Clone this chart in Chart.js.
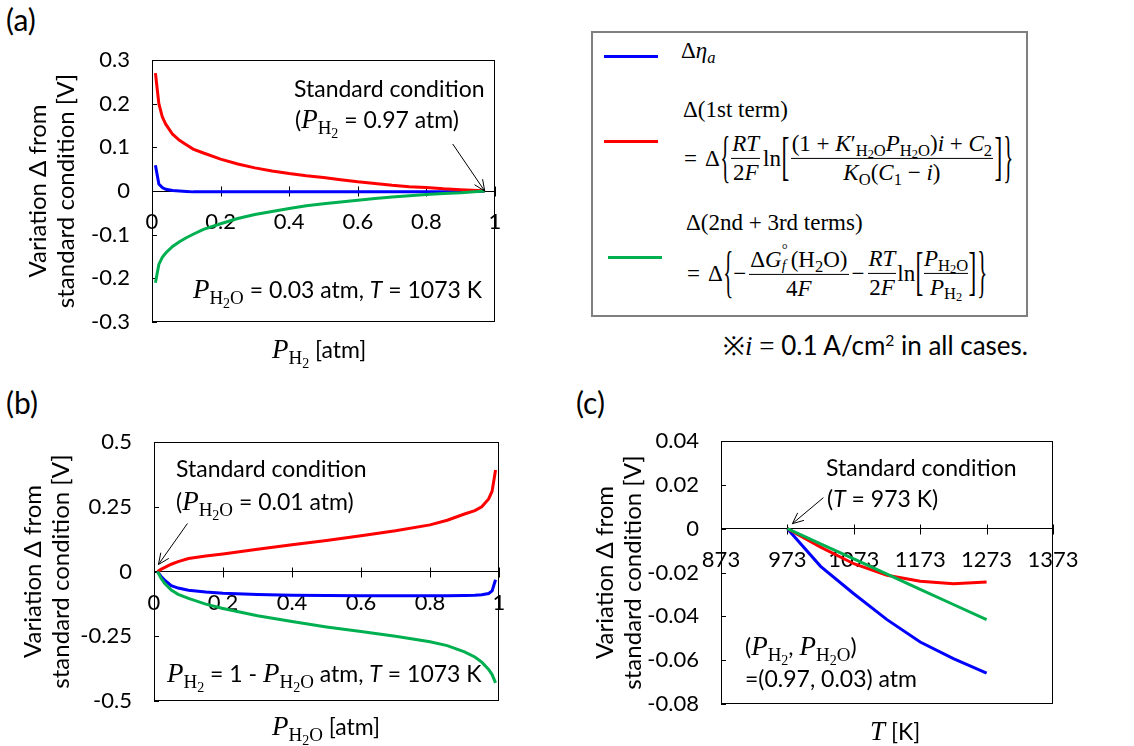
<!DOCTYPE html>
<html><head><meta charset="utf-8">
<script src="https://cdn.jsdelivr.net/npm/chart.js@4.4.1/dist/chart.umd.min.js"></script>
<style>
html,body{margin:0;padding:0;background:#fff;}
body{width:1134px;height:746px;position:relative;overflow:hidden;font-family:Lato,"Open Sans",sans-serif;color:#000;}
.abs{position:absolute;white-space:nowrap;line-height:1;}
.pl{font-size:30px;}
canvas{position:absolute;}
.m{font-family:"Liberation Serif","DejaVu Serif",serif;font-size:23px;}
.m i{font-style:italic;}
.m sub{font-size:72%;vertical-align:-0.28em;line-height:0;}
.m sub sub{font-size:75%;vertical-align:-0.2em;}
.row{display:flex;align-items:center;transform:translateY(-50%);}
.fr{display:inline-flex;flex-direction:column;align-items:center;margin:0 1px;}
.fr>.nu{align-self:stretch;text-align:center;border-bottom:1.6px solid #000;line-height:1.2;padding:0 1px;}
.fr>.de{align-self:stretch;text-align:center;line-height:1.2;padding:0 1px;}
.brc{display:inline-block;font-size:26px;transform:scale(0.8,2.2);line-height:1;margin:0 -1px;}
.brk{display:inline-block;font-size:26px;transform:scale(0.9,2.0);line-height:1;margin:0 0;}
.ss{display:inline-block;position:relative;width:9px;height:23px;vertical-align:baseline;}
.ss>span{position:absolute;left:0;font-size:15px;line-height:1;}
.sw{position:absolute;height:3px;width:54px;}
</style></head>
<body>
<div class="abs pl" style="left:6px;top:4px;">(a)</div>
<div class="abs pl" style="left:6px;top:387px;">(b)</div>
<div class="abs pl" style="left:576px;top:387px;">(c)</div>

<canvas id="cA" width="545" height="340" style="left:0;top:40px;"></canvas>
<canvas id="cB" width="545" height="326" style="left:0;top:420px;"></canvas>
<canvas id="cC" width="574" height="326" style="left:560px;top:420px;"></canvas>

<div id="legend" style="position:absolute;left:591px;top:31px;width:433px;height:282px;border:2px solid #7f7f7f;"></div>
<div class="sw" style="left:604px;top:55px;background:#0000ff;"></div>
<div class="sw" style="left:604px;top:140px;background:#ff0000;"></div>
<div class="sw" style="left:608px;top:256px;background:#00b050;"></div>

<div class="abs m" style="left:681px;top:39px;">Δ<i>η</i><sub><i>a</i></sub></div>
<div class="abs m" style="left:683px;top:98px;">Δ(1st term)</div>
<div class="abs m row" style="left:684px;top:158px;">
  <span>=</span><span style="margin-left:8px;">Δ</span><span class="brc">{</span>
  <span class="fr"><span class="nu"><i>RT</i></span><span class="de">2<i>F</i></span></span>
  <span style="margin-left:2px;">ln</span><span class="brk">[</span>
  <span class="fr"><span class="nu">(1 + <i>K</i>′<sub>H<sub>2</sub>O</sub><i>P</i><sub>H<sub>2</sub>O</sub>)<i>i</i> + <i>C</i><sub>2</sub></span><span class="de"><i>K</i><sub>O</sub>(<i>C</i><sub>1</sub> − <i>i</i>)</span></span>
  <span class="brk">]</span><span class="brc">}</span>
</div>
<div class="abs m" style="left:686px;top:211px;">Δ(2nd + 3rd terms)</div>
<div class="abs m row" style="left:687px;top:273px;">
  <span>=</span><span style="margin-left:8px;">Δ</span><span class="brc">{</span><span>−</span>
  <span class="fr" style="margin-left:3px;"><span class="nu">Δ<i>G</i><span class="ss"><span style="top:-2px;">°</span><span style="top:14px;"><i>f</i></span></span>(H<sub>2</sub>O)</span><span class="de">4<i>F</i></span></span>
  <span style="margin:0 2px;">−</span>
  <span class="fr"><span class="nu"><i>RT</i></span><span class="de">2<i>F</i></span></span>
  <span>ln</span><span class="brk">[</span>
  <span class="fr" style="margin:0;"><span class="nu" style="padding:0;"><i>P</i><sub>H<sub>2</sub>O</sub></span><span class="de" style="padding:0;"><i>P</i><sub>H<sub>2</sub></sub></span></span>
  <span class="brk">]</span><span class="brc">}</span>
</div>
<div class="abs" style="left:723px;top:332px;font-size:26px;">※<span class="m" style="font-size:27px;"><i>i</i> = </span>0.1 A/cm<sup style="font-size:60%;vertical-align:0.6em;line-height:0;">2</sup> in all cases.</div>

<script>
// ---------------- data ----------------
// (a) P_H2 sweep, P_H2O = 0.03 atm, T = 1073 K
const pH2_a = [0.01,0.02,0.03,0.04,0.06,0.08,0.1,0.12,0.15,0.2,0.25,0.3,0.35,0.4,0.45,0.5,0.55,0.6,0.65,0.7,0.75,0.8,0.85,0.9,0.95,0.97];
const etaA_a = [0.059,0.016,0.008,0.004,0.001,0,-0.001,-0.002,-0.002,-0.002,-0.002,-0.002,-0.002,-0.002,-0.002,-0.002,-0.002,-0.002,-0.002,-0.002,-0.002,-0.002,-0.002,-0.001,-0.001,0];
const term1_a = [0.270,0.200,0.170,0.153,0.130,0.116,0.106,0.096,0.087,0.073,0.062,0.053,0.046,0.040,0.035,0.031,0.026,0.021,0.017,0.013,0.010,0.008,0.005,0.003,0.001,0];
const term23_a = [-0.210,-0.168,-0.152,-0.142,-0.127,-0.116,-0.107,-0.099,-0.088,-0.075,-0.063,-0.054,-0.047,-0.040,-0.034,-0.029,-0.025,-0.021,-0.017,-0.014,-0.011,-0.008,-0.006,-0.004,-0.001,0];
const xTicksA = [0,0.2,0.4,0.6,0.8,1];
const yTicksA = [-0.3,-0.2,-0.1,0,0.1,0.2,0.3];

// (b) P_H2O sweep, P_H2 = 1 - P_H2O, T = 1073 K
const pH2O_b = [0.01,0.02,0.03,0.05,0.07,0.1,0.15,0.2,0.3,0.4,0.5,0.6,0.7,0.8,0.85,0.9,0.93,0.95,0.97,0.98,0.99];
const etaA_b = [0,-0.018,-0.032,-0.055,-0.064,-0.072,-0.079,-0.084,-0.089,-0.092,-0.093,-0.094,-0.094,-0.094,-0.094,-0.093,-0.092,-0.090,-0.085,-0.075,-0.032];
const term1_b = [0,0.008,0.015,0.028,0.038,0.050,0.060,0.068,0.086,0.103,0.120,0.138,0.157,0.180,0.198,0.222,0.235,0.250,0.280,0.310,0.392];
const term23_b = [0,-0.025,-0.045,-0.072,-0.088,-0.104,-0.126,-0.143,-0.171,-0.193,-0.214,-0.232,-0.250,-0.271,-0.286,-0.310,-0.330,-0.350,-0.378,-0.398,-0.430];
const xTicksB = [0,0.2,0.4,0.6,0.8,1];
const yTicksB = [-0.5,-0.25,0,0.25,0.5];

// (c) temperature sweep, (P_H2, P_H2O) = (0.97, 0.03) atm
const T_c = [973,1023,1073,1123,1173,1223,1273];
const etaA_c = [0,-0.0172,-0.0297,-0.0415,-0.0517,-0.0593,-0.0659];
const term1_c = [0,-0.0084,-0.0160,-0.0213,-0.0240,-0.0251,-0.0243];
const term23_c = [0,-0.0069,-0.0138,-0.0207,-0.0277,-0.0346,-0.0415];
const xTicksC = [873,973,1073,1173,1273,1373];
const yTicksC = [-0.08,-0.06,-0.04,-0.02,0,0.02,0.04];

// ---------------- styling helpers ----------------
const SANS = 'Lato, "Open Sans", sans-serif';
const SERIF = '"Liberation Serif", "DejaVu Serif", serif';
const BLUE = '#0000ff', RED = '#ff0000', GREEN = '#00b050';
const sans = (t, s = 23, st = '') => ({t, f: `${st} ${s}px ${SANS}`});
const mi = (t, s = 27) => ({t, f: `italic ${s}px ${SERIF}`});
const sb = (t, s = 19, dy = 6) => ({t, f: `${s}px ${SERIF}`, dy});
const PH2 = () => [mi('P'), sb('H'), sb('2', 14, 10)];
const PH2O = () => [mi('P'), sb('H'), sb('2', 14, 10), sb('O')];
const Tit = () => sans('T', 23, 'italic');

function drawRich(ctx, parts, x, y, align) {
  let w = 0;
  parts.forEach(p => { ctx.font = p.f; p.w = ctx.measureText(p.t).width; w += p.w; });
  let cx = align === 'right' ? x - w : (align === 'center' ? x - w / 2 : x);
  ctx.textAlign = 'left'; ctx.textBaseline = 'alphabetic'; ctx.fillStyle = '#000';
  parts.forEach(p => { ctx.font = p.f; ctx.fillText(p.t, cx, y + (p.dy || 0)); cx += p.w; });
}

const ANNOT = {
  cA: {
    arrow: {x: 0.97, y: 0, tdx: 0, tdy: 0, sdx: -32, sdy: -47},
    texts: [
      {p: [sans('Standard condition')], x: 294, y: 57},
      {p: [sans('('), ...PH2(), sans(' = 0.97 atm)')], x: 295, y: 88},
      {p: [...PH2O(), sans(' = 0.03 atm, '), Tit(), sans(' = 1073 K')], x: 482, y: 258, a: 'right'},
      {p: [...PH2(), sans(' [atm]')], x: 272, y: 318}
    ]
  },
  cB: {
    arrow: {x: 0.01, y: 0, tdx: 1, tdy: -7, sdx: 29, sdy: -41},
    texts: [
      {p: [sans('Standard condition')], x: 176, y: 57},
      {p: [sans('('), ...PH2O(), sans(' = 0.01 atm)')], x: 176, y: 90},
      {p: [...PH2(), sans(' = 1 - '), ...PH2O(), sans(' atm, '), Tit(), sans(' = 1073 K')], x: 167, y: 262},
      {p: [...PH2O(), sans(' [atm]')], x: 272, y: 315}
    ]
  },
  cC: {
    arrow: {x: 973, y: 0, tdx: 5, tdy: -5, sdx: 31, sdy: -26},
    texts: [
      {p: [sans('Standard condition')], x: 266, y: 56},
      {p: [sans('('), Tit(), sans(' = 973 K)')], x: 267, y: 87},
      {p: [sans('('), ...PH2(), sans(', '), ...PH2O(), sans(')')], x: 185, y: 235},
      {p: [sans('=(0.97, 0.03) atm')], x: 185, y: 267},
      {p: [mi('T', 27), sans(' [K]')], x: 310, y: 320}
    ]
  }
};

const decor = {
  id: 'decor',
  beforeDatasetsDraw(chart) {
    const {ctx, chartArea: a, scales: {x, y}} = chart;
    ctx.save();
    ctx.strokeStyle = '#000'; ctx.lineWidth = 1;
    ctx.strokeRect(a.left + 0.5, a.top + 0.5, a.right - a.left - 1, a.bottom - a.top - 1);
    y.ticks.forEach(t => {
      const py = Math.round(y.getPixelForValue(t.value)) + 0.5;
      ctx.beginPath(); ctx.moveTo(a.left, py); ctx.lineTo(a.left + 5, py); ctx.stroke();
    });
    const y0 = Math.round(y.getPixelForValue(0)) + 0.5;
    x.ticks.forEach(t => {
      const px = Math.round(x.getPixelForValue(t.value)) + 0.5;
      ctx.beginPath(); ctx.moveTo(px, y0 - 5); ctx.lineTo(px, y0 + 5); ctx.stroke();
    });
    ctx.restore();
  },
  afterDraw(chart) {
    const spec = ANNOT[chart.canvas.id];
    if (!spec) return;
    const {ctx, scales: {x, y}} = chart;
    ctx.save();
    const ar = spec.arrow;
    const tx = x.getPixelForValue(ar.x) + ar.tdx, ty = y.getPixelForValue(ar.y) + ar.tdy;
    const sx = tx + ar.sdx, sy = ty + ar.sdy;
    ctx.strokeStyle = '#000'; ctx.lineWidth = 1;
    ctx.beginPath(); ctx.moveTo(sx, sy); ctx.lineTo(tx, ty); ctx.stroke();
    const ang = Math.atan2(ty - sy, tx - sx), L = 12, h = 0.42;
    ctx.beginPath();
    ctx.moveTo(tx - L * Math.cos(ang - h), ty - L * Math.sin(ang - h));
    ctx.lineTo(tx, ty);
    ctx.lineTo(tx - L * Math.cos(ang + h), ty - L * Math.sin(ang + h));
    ctx.stroke();
    spec.texts.forEach(t => drawRich(ctx, t.p, t.x, t.y, t.a));
    ctx.restore();
  }
};

const fmt = v => String(+(+v).toFixed(4));

function makeChart(id, xs, series, xr, yr, xt, yt, pad, axisW, titlePad) {
  const ds = series.map(s => ({
    data: xs.map((v, i) => ({x: v, y: s.d[i]})),
    borderColor: s.c, backgroundColor: s.c, borderWidth: 3,
    pointRadius: 0, tension: 0, fill: false, order: s.o
  }));
  return new Chart(document.getElementById(id), {
    type: 'line',
    data: {datasets: ds},
    options: {
      responsive: false, animation: false, devicePixelRatio: 1,
      layout: {padding: pad},
      plugins: {legend: {display: false}, tooltip: {enabled: false}},
      scales: {
        x: {
          type: 'linear', position: {y: 0}, min: xr[0], max: xr[1],
          afterBuildTicks: s => { s.ticks = xt.map(v => ({value: v})); },
          afterFit: s => { s.paddingLeft = 0; s.paddingRight = 0; },
          ticks: {callback: fmt, color: '#000', font: {family: SANS, size: 22}, padding: 18, maxRotation: 0, autoSkip: false},
          grid: {display: true, drawOnChartArea: false, drawTicks: false},
          border: {display: true, color: '#000', width: 1}
        },
        y: {
          type: 'linear', min: yr[0], max: yr[1],
          afterBuildTicks: s => { s.ticks = yt.map(v => ({value: v})); },
          afterFit: s => { s.width = axisW; s.paddingTop = 0; s.paddingBottom = 0; },
          ticks: {callback: fmt, color: '#000', font: {family: SANS, size: 22}, padding: 22},
          grid: {display: true, drawOnChartArea: false, drawTicks: false},
          border: {display: true, color: '#000', width: 1},
          title: {display: true, text: ['Variation Δ from', 'standard condition [V]'], color: '#000',
                  font: {family: SANS, size: 24, lineHeight: 1.2}, padding: {top: titlePad, bottom: 0}}
        }
      }
    },
    plugins: [decor]
  });
}

makeChart('cA', pH2_a,
  [{d: etaA_a, c: BLUE, o: 2}, {d: term1_a, c: RED, o: 1}, {d: term23_a, c: GREEN, o: 0}],
  [0, 1], [-0.3, 0.3], xTicksA, yTicksA,
  {left: 0, top: 20, right: 50, bottom: 58}, 152, 23.5);

makeChart('cB', pH2O_b,
  [{d: etaA_b, c: BLUE, o: 2}, {d: term1_b, c: RED, o: 1}, {d: term23_b, c: GREEN, o: 0}],
  [0, 1], [-0.5, 0.5], xTicksB, yTicksB,
  {left: 0, top: 22, right: 46, bottom: 45}, 154, 18.5);

makeChart('cC', T_c,
  [{d: etaA_c, c: BLUE, o: 2}, {d: term1_c, c: RED, o: 1}, {d: term23_c, c: GREEN, o: 0}],
  [873, 1373], [-0.08, 0.04], xTicksC, yTicksC,
  {left: 0, top: 21, right: 81, bottom: 42}, 161, 30.5);
</script>
</body></html>
